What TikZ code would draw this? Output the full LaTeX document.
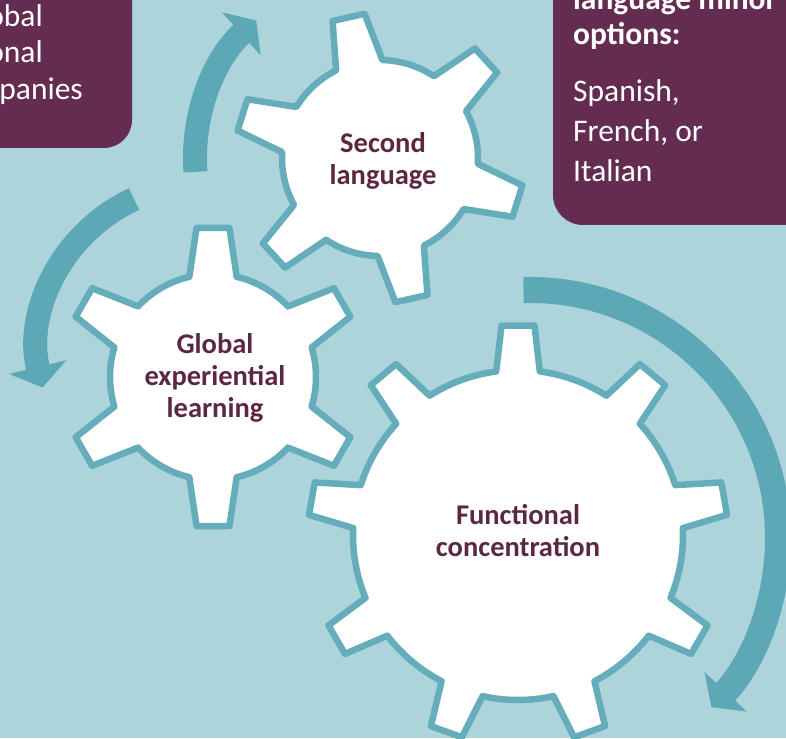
\documentclass[tikz,border=0pt]{standalone}
\usepackage{fontspec}
\setmainfont{Carlito}
\usetikzlibrary{arrows.meta}

\definecolor{bgblue}{HTML}{AED4DB}
\definecolor{cogteal}{HTML}{65ADBA}
\definecolor{arrteal}{HTML}{5DA8B6}
\definecolor{plum}{HTML}{632C50}
\definecolor{cogink}{HTML}{5C2742}

\tikzset{
    cog/.style={draw=cogteal, line width=6.5pt, fill=white, line join=round},
    turn/.style={draw=arrteal, line width=24pt},
    cogtext/.style={align=center, inner sep=0pt, text=cogink, font=\fontsize{28.5}{32}\selectfont\bfseries},
    boxtext/.style={inner sep=0pt, text=white, font=\fontsize{31.5}{36}\selectfont},
}

% center, teeth, tip radius, root radius, first tooth angle, tip half angle, root half angle
\newcommand{\drawcog}[7]{%
    \pgfmathsetmacro{\cogstep}{360/#2}
    \draw[cog, shift={#1}] ({#5-#7}:#4)
        \foreach \k [evaluate=\k as \ang using #5+(\k-1)*\cogstep] in {1,...,#2} {
            -- ({\ang-#7}:#4) -- ({\ang-#6}:#3) -- ({\ang+#6}:#3) -- ({\ang+#7}:#4)
            arc[start angle={\ang+#7}, end angle={\ang+\cogstep-#7}, radius=#4]
        } -- cycle;
}

\begin{document}
\begin{tikzpicture}[x=1pt, y=1pt]
    \useasboundingbox (0,0) rectangle (786,738);
    \clip (0,0) rectangle (786,738);
    \fill[bgblue] (0,0) rectangle (786,738);

    \fill[plum, rounded corners=28pt] (-40,590) rectangle (132,780);
    \fill[plum, rounded corners=30pt] (553,513) rectangle (830,780);

    \coordinate (cS) at (380,580);
    \coordinate (cG) at (213,361);
    \coordinate (cF) at (518,203);

    \coordinate (turnA) at ([shift={(184.3:185)}]cS);
    \draw[turn, -{Triangle[length=20pt, width=57pt]}] (turnA) arc[start angle=184.3, end angle=132, radius=185];
    \coordinate (turnB) at ([shift={(114.7:165)}]203,389);
    \draw[turn, -{Triangle[length=21pt, width=58pt]}] (turnB) arc[start angle=114.7, end angle=193.5, radius=165];
    \coordinate (turnC) at ([shift={(91.5:248)}]530,200);
    \draw[turn, line width=26pt, -{Triangle[length=21pt, width=57pt]}] (turnC) arc[start angle=91.5, end angle=-43, radius=248];

    \drawcog{(cS)}{6}{145}{98}{102.6}{6.5}{14}
    \drawcog{(cG)}{6}{150}{103}{90}{6.3}{13.3}
    \drawcog{(cF)}{9}{210}{165}{90}{4.5}{7.6}

    \node[cogtext] (second) at (383,577) {Second\\language};
    \node[cogtext] (global) at (215,360) {Global\\experiential\\learning};
    \node[cogtext] (functional) at (518,207) {Functional\\concentration};

    \node[boxtext, anchor=base east] (obal) at (43,711) {obal};
    \node[boxtext, anchor=base east] (onal) at (43,675) {onal};
    \node[boxtext, anchor=base east] (panies) at (83,638) {panies};

    \node[boxtext, anchor=base west, font=\fontsize{31.5}{36}\selectfont\bfseries] (minor) at (573,728) {language minor};
    \node[boxtext, anchor=base west, font=\fontsize{31.5}{36}\selectfont\bfseries] (options) at (573,693) {options:};
    \node[boxtext, anchor=base west] (spanish) at (573,636) {Spanish,};
    \node[boxtext, anchor=base west] (french) at (573,596) {French, or};
    \node[boxtext, anchor=base west] (italian) at (573,556) {Italian};
\end{tikzpicture}
\end{document}
